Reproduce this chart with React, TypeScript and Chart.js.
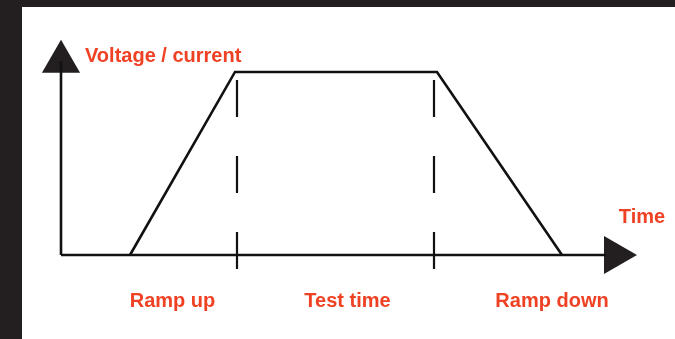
import React, { useEffect, useRef } from "react";
import { Chart, registerables } from "chart.js";

Chart.register(...registerables);

// Time (arbitrary units) and level (% of test level)
const profileTime = [6.9, 17.4, 37.6, 50.1];
const profileLevel = [0, 100, 100, 0];

const markerTimes = [17.6, 37.3];
const markerRange = [-8.2, 95.6];

const axisXEnd = 54.5;
const axisYEnd = 106;
const arrowX = [55.4, 0];
const arrowY = [0, 105.5];

const phaseLabels = ["Ramp up", "Test time", "Ramp down"];
const phaseLabelTime = [11.15, 28.65, 49.1];
const phaseLabelLevel = -28.4;

const yTitle = "Voltage / current";
const yTitlePos = [2.4, 105.5];
const xTitle = "Time";
const xTitlePos = [58.1, 17.5];

const RED = "#ef4123";
const INK = "#111111";
const DARK = "#231f20";

export default function App() {
  const ref = useRef<HTMLCanvasElement | null>(null);
  useEffect(() => {
    if (!ref.current) return;
    const framePlugin = {
      id: "frame",
      beforeDraw(chart: any) {
        const { ctx, width, height } = chart;
        ctx.save();
        ctx.fillStyle = DARK;
        ctx.fillRect(0, 0, width, height);
        ctx.fillStyle = "#ffffff";
        ctx.fillRect(22, 7, width - 22, height - 7);
        ctx.restore();
      },
      afterDraw(chart: any) {
        const { ctx } = chart;
        const xs = chart.scales.x;
        const ys = chart.scales.y;
        ctx.save();
        ctx.fillStyle = RED;
        ctx.font = "bold 20px 'Liberation Sans', Arial, sans-serif";
        ctx.textBaseline = "alphabetic";
        ctx.textAlign = "center";
        phaseLabels.forEach((t, i) => {
          ctx.fillText(t, xs.getPixelForValue(phaseLabelTime[i]), ys.getPixelForValue(phaseLabelLevel));
        });
        ctx.fillText(xTitle, xs.getPixelForValue(xTitlePos[0]), ys.getPixelForValue(xTitlePos[1]));
        ctx.textAlign = "left";
        ctx.fillText(yTitle, xs.getPixelForValue(yTitlePos[0]), ys.getPixelForValue(yTitlePos[1]));
        ctx.restore();
      },
    };
    const lineStyle = {
      borderColor: INK,
      borderWidth: 2.6,
      pointRadius: 0,
      borderCapStyle: "butt",
      borderJoinStyle: "miter",
      tension: 0,
      clip: false,
    };
    const chart = new Chart(ref.current, {
      type: "line",
      data: {
        datasets: [
          {
            ...lineStyle,
            data: [
              { x: 0, y: 0 },
              { x: axisXEnd, y: 0 },
            ],
          },
          {
            ...lineStyle,
            data: [
              { x: 0, y: 0 },
              { x: 0, y: axisYEnd },
            ],
          },
          {
            ...lineStyle,
            data: profileTime.map((t, i) => ({ x: t, y: profileLevel[i] })),
          },
          ...markerTimes.map((t) => ({
            ...lineStyle,
            borderWidth: 2.2,
            borderDash: [37, 39],
            data: [
              { x: t, y: markerRange[1] },
              { x: t, y: markerRange[0] },
            ],
          })),
          {
            type: "scatter",
            data: [{ x: arrowX[0], y: arrowY[0] }],
            pointStyle: "triangle",
            rotation: 90,
            pointRadius: 22,
            pointHoverRadius: 22,
            backgroundColor: DARK,
            borderWidth: 0,
            clip: false,
          },
          {
            type: "scatter",
            data: [{ x: arrowX[1], y: arrowY[1] }],
            pointStyle: "triangle",
            rotation: 0,
            pointRadius: 22,
            pointHoverRadius: 22,
            backgroundColor: DARK,
            borderWidth: 0,
            clip: false,
          },
        ] as any,
      },
      options: {
        animation: false,
        responsive: false,
        events: [],
        layout: { padding: 0, autoPadding: false },
        plugins: { legend: { display: false }, tooltip: { enabled: false } },
        scales: {
          x: { type: "linear", min: -6.1, max: 61.4, display: false },
          y: { type: "linear", min: -45.9, max: 139.3, display: false },
        },
      },
      plugins: [framePlugin],
    });
    return () => chart.destroy();
  }, []);
  return (
    <div style={{ position: "fixed", left: 0, top: 0, width: 675, height: 339 }}>
      <canvas ref={ref} width={675} height={339} style={{ display: "block" }} />
    </div>
  );
}
